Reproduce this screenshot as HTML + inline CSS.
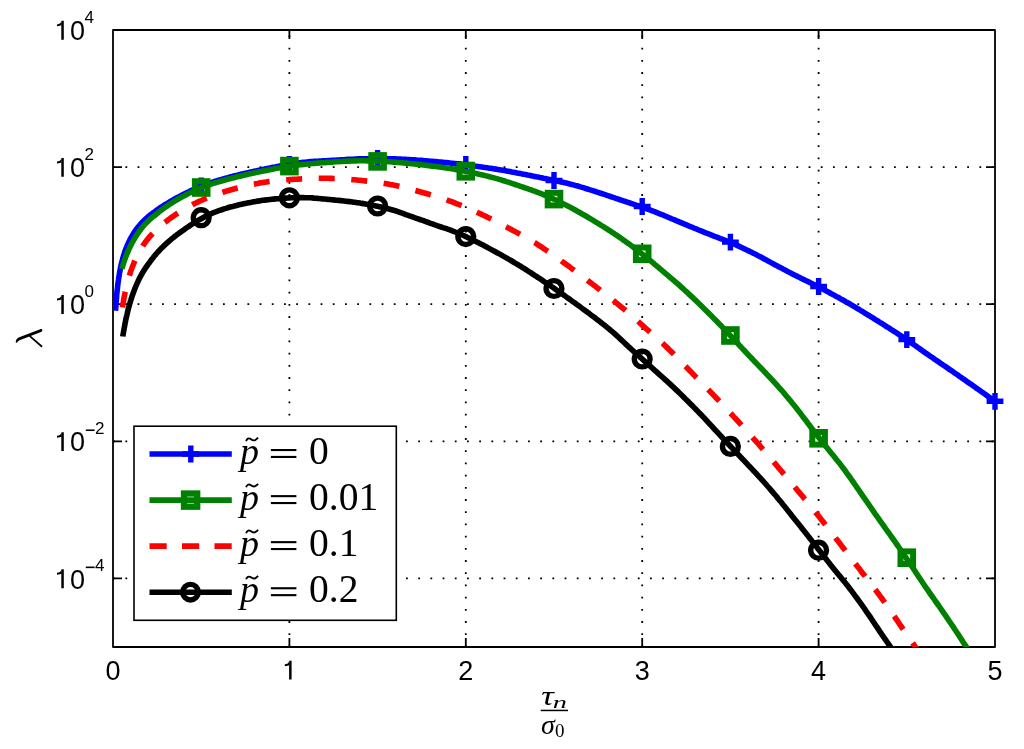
<!DOCTYPE html><html><head><meta charset="utf-8"><style>html,body{margin:0;padding:0;background:#fff;overflow:hidden}svg{display:block;will-change:transform}</style></head><body>
<svg width="1024" height="749" viewBox="0 0 1024 749">
<rect width="1024" height="749" fill="#fff"/>
<defs><clipPath id="ax"><rect x="113.0" y="30.0" width="882.0" height="617.0"/></clipPath></defs>
<g stroke="#000" stroke-width="1.8" stroke-dasharray="1.8 10.4" fill="none"><line x1="289.40" y1="647.30" x2="289.40" y2="30.00"/><line x1="465.80" y1="647.30" x2="465.80" y2="30.00"/><line x1="642.20" y1="647.30" x2="642.20" y2="30.00"/><line x1="818.60" y1="647.30" x2="818.60" y2="30.00"/><line x1="113.20" y1="167.11" x2="995.00" y2="167.11"/><line x1="113.20" y1="304.22" x2="995.00" y2="304.22"/><line x1="113.20" y1="441.33" x2="995.00" y2="441.33"/><line x1="113.20" y1="578.44" x2="995.00" y2="578.44"/></g>
<path d="M289.40,647.00v-9.00M289.40,30.00v9.00M465.80,647.00v-9.00M465.80,30.00v9.00M642.20,647.00v-9.00M642.20,30.00v9.00M818.60,647.00v-9.00M818.60,30.00v9.00M113.00,167.11h9.00M995.00,167.11h-9.00M113.00,304.22h9.00M995.00,304.22h-9.00M113.00,441.33h9.00M995.00,441.33h-9.00M113.00,578.44h9.00M995.00,578.44h-9.00" stroke="#000" stroke-width="1.8" fill="none"/>
<rect x="113.00" y="30.00" width="882.00" height="617.00" fill="none" stroke="#000" stroke-width="1.8" stroke-linejoin="round"/>
<g clip-path="url(#ax)" fill="none" stroke-width="5.60" stroke-linejoin="round"><path d="M115.5,310.7 L115.6,309.7 L115.7,308.6 L115.8,307.5 L115.8,306.5 L115.9,305.4 L116.0,304.3 L116.0,303.3 L116.1,302.2 L116.2,301.2 L116.3,300.1 L116.4,299.1 L116.5,298.0 L116.6,297.0 L116.6,296.0 L116.7,294.9 L116.8,293.9 L116.9,292.9 L117.0,291.9 L117.1,290.8 L117.2,289.8 L117.4,288.8 L117.5,287.8 L117.6,286.8 L117.7,285.8 L117.8,284.8 L117.9,283.8 L118.1,282.8 L118.2,281.8 L118.3,280.8 L118.5,279.9 L118.6,278.9 L118.8,277.9 L118.9,276.9 L119.1,276.0 L119.2,275.0 L119.4,274.0 L119.5,273.1 L119.7,272.1 L119.9,271.2 L120.1,270.2 L120.2,269.3 L120.4,268.3 L120.6,267.4 L120.8,266.5 L121.0,265.5 L121.2,264.6 L121.4,263.7 L121.7,262.8 L121.9,261.9 L122.1,261.0 L122.4,260.0 L122.6,259.1 L122.8,258.2 L123.1,257.3 L123.4,256.4 L123.6,255.5 L123.9,254.7 L124.2,253.8 L124.5,252.9 L124.8,252.0 L125.1,251.1 L125.4,250.3 L125.7,249.4 L126.0,248.5 L126.4,247.7 L126.7,246.8 L127.1,245.9 L127.4,245.1 L127.8,244.2 L128.2,243.4 L128.6,242.5 L129.0,241.7 L129.4,240.9 L129.8,240.0 L130.2,239.2 L130.7,238.3 L131.1,237.5 L131.6,236.7 L132.1,235.9 L132.6,235.0 L133.1,234.2 L133.6,233.4 L134.1,232.6 L134.7,231.8 L135.2,231.0 L135.8,230.1 L136.4,229.3 L137.0,228.5 L137.6,227.7 L138.3,226.9 L138.9,226.1 L139.6,225.3 L140.3,224.5 L141.0,223.7 L141.7,222.9 L142.4,222.1 L143.2,221.4 L144.0,220.6 L144.8,219.8 L145.6,219.0 L146.5,218.2 L147.3,217.5 L148.2,216.7 L149.1,215.9 L150.0,215.2 L151.0,214.4 L152.0,213.7 L153.0,212.9 L154.0,212.2 L155.1,211.4 L156.2,210.6 L157.3,209.8 L158.4,209.0 L159.6,208.2 L160.8,207.4 L162.0,206.6 L163.3,205.8 L164.6,204.9 L165.9,204.1 L167.7,203.1 L169.4,202.0 L171.2,201.0 L173.0,200.0 L174.7,199.0 L176.5,198.0 L178.3,197.1 L180.0,196.2 L181.8,195.2 L183.6,194.3 L185.3,193.4 L187.1,192.5 L188.9,191.7 L190.6,190.8 L192.4,190.0 L194.1,189.2 L195.9,188.4 L197.7,187.6 L199.4,186.9 L201.2,186.2 L203.0,185.5 L204.7,184.8 L206.5,184.2 L208.3,183.6 L210.0,182.9 L211.8,182.4 L213.5,181.8 L215.3,181.2 L217.1,180.7 L218.8,180.1 L220.6,179.6 L222.4,179.1 L224.1,178.6 L225.9,178.1 L227.7,177.7 L229.4,177.2 L231.2,176.7 L233.0,176.3 L234.7,175.8 L236.5,175.4 L238.2,175.0 L240.0,174.5 L241.8,174.1 L243.5,173.7 L245.3,173.3 L247.1,172.9 L248.8,172.5 L250.6,172.1 L252.4,171.7 L254.1,171.3 L255.9,170.9 L257.6,170.6 L259.4,170.2 L261.2,169.8 L262.9,169.4 L264.7,169.1 L266.5,168.7 L268.2,168.3 L270.0,168.0 L271.8,167.6 L273.5,167.2 L275.3,166.9 L277.1,166.5 L278.8,166.2 L280.6,165.8 L282.3,165.5 L284.1,165.2 L285.9,164.9 L287.6,164.6 L289.4,164.3 L291.2,164.0 L292.9,163.8 L294.7,163.5 L296.5,163.3 L298.2,163.0 L300.0,162.8 L301.7,162.6 L303.5,162.4 L305.3,162.2 L307.0,162.0 L308.8,161.8 L310.6,161.6 L312.3,161.5 L314.1,161.4 L315.9,161.3 L317.6,161.2 L319.4,161.1 L321.2,161.0 L322.9,160.9 L324.7,160.8 L326.4,160.7 L328.2,160.6 L330.0,160.5 L331.7,160.4 L333.5,160.3 L335.3,160.2 L337.0,160.1 L338.8,160.0 L340.6,159.9 L342.3,159.8 L344.1,159.7 L345.8,159.5 L347.6,159.4 L349.4,159.3 L351.1,159.2 L352.9,159.2 L354.7,159.1 L356.4,159.0 L358.2,158.9 L360.0,158.9 L361.7,158.8 L363.5,158.7 L365.3,158.7 L367.0,158.7 L368.8,158.6 L370.5,158.6 L372.3,158.6 L374.1,158.6 L375.8,158.5 L377.6,158.5 L379.4,158.5 L381.1,158.6 L382.9,158.6 L384.7,158.6 L386.4,158.6 L388.2,158.7 L389.9,158.7 L391.7,158.8 L393.5,158.8 L395.2,158.9 L397.0,159.0 L398.8,159.0 L400.5,159.1 L402.3,159.2 L404.1,159.3 L405.8,159.4 L407.6,159.5 L409.4,159.6 L411.1,159.7 L412.9,159.8 L414.6,159.9 L416.4,160.1 L418.2,160.2 L419.9,160.3 L421.7,160.4 L423.5,160.6 L425.2,160.7 L427.0,160.9 L428.8,161.0 L430.5,161.2 L432.3,161.3 L434.0,161.5 L435.8,161.6 L437.6,161.8 L439.3,162.0 L441.1,162.1 L442.9,162.3 L444.6,162.5 L446.4,162.6 L448.2,162.8 L449.9,163.0 L451.7,163.2 L453.5,163.4 L455.2,163.5 L457.0,163.7 L458.7,163.9 L460.5,164.1 L462.3,164.4 L464.0,164.6 L465.8,164.8 L467.6,165.0 L469.3,165.3 L471.1,165.5 L472.9,165.7 L474.6,166.0 L476.4,166.2 L478.1,166.5 L479.9,166.7 L481.7,167.0 L483.4,167.3 L485.2,167.5 L487.0,167.8 L488.7,168.1 L490.5,168.3 L492.3,168.6 L494.0,168.9 L495.8,169.1 L497.6,169.4 L499.3,169.7 L501.1,170.0 L502.8,170.3 L504.6,170.6 L506.4,170.9 L508.1,171.2 L509.9,171.5 L511.7,171.9 L513.4,172.2 L515.2,172.5 L517.0,172.9 L518.7,173.2 L520.5,173.6 L522.2,173.9 L524.0,174.3 L525.8,174.6 L527.5,175.0 L529.3,175.3 L531.1,175.7 L532.8,176.1 L534.6,176.4 L536.4,176.8 L538.1,177.1 L539.9,177.5 L541.7,177.8 L543.4,178.2 L545.2,178.5 L546.9,178.9 L548.7,179.3 L550.5,179.6 L552.2,180.0 L554.0,180.4 L555.8,180.7 L557.5,181.1 L559.3,181.5 L561.1,181.9 L562.8,182.3 L564.6,182.7 L566.3,183.1 L568.1,183.5 L569.9,184.0 L571.6,184.4 L573.4,184.9 L575.2,185.4 L576.9,185.8 L578.7,186.3 L580.5,186.9 L582.2,187.4 L584.0,187.9 L585.8,188.5 L587.5,189.0 L589.3,189.6 L591.0,190.1 L592.8,190.7 L594.6,191.3 L596.3,191.8 L598.1,192.4 L599.9,193.0 L601.6,193.5 L603.4,194.1 L605.2,194.7 L606.9,195.3 L608.7,195.9 L610.4,196.5 L612.2,197.1 L614.0,197.7 L615.7,198.3 L617.5,198.9 L619.3,199.5 L621.0,200.1 L622.8,200.7 L624.6,201.3 L626.3,201.8 L628.1,202.4 L629.9,203.0 L631.6,203.6 L633.4,204.2 L635.1,204.8 L636.9,205.4 L638.7,206.0 L640.4,206.6 L642.2,207.2 L644.0,207.8 L645.7,208.4 L647.5,209.1 L649.3,209.7 L651.0,210.4 L652.8,211.0 L654.5,211.7 L656.3,212.4 L658.1,213.1 L659.8,213.8 L661.6,214.5 L663.4,215.2 L665.1,216.0 L666.9,216.7 L668.7,217.5 L670.4,218.2 L672.2,219.0 L674.0,219.7 L675.7,220.4 L677.5,221.2 L679.2,221.9 L681.0,222.6 L682.8,223.4 L684.5,224.1 L686.3,224.8 L688.1,225.6 L689.8,226.3 L691.6,227.0 L693.4,227.8 L695.1,228.5 L696.9,229.2 L698.6,230.0 L700.4,230.7 L702.2,231.4 L703.9,232.1 L705.7,232.8 L707.5,233.5 L709.2,234.2 L711.0,234.9 L712.8,235.6 L714.5,236.3 L716.3,236.9 L718.1,237.6 L719.8,238.3 L721.6,239.0 L723.3,239.6 L725.1,240.3 L726.9,241.1 L728.6,241.8 L730.4,242.5 L732.2,243.3 L733.9,244.0 L735.7,244.8 L737.5,245.6 L739.2,246.4 L741.0,247.2 L742.7,248.0 L744.5,248.9 L746.3,249.7 L748.0,250.6 L749.8,251.4 L751.6,252.3 L753.3,253.2 L755.1,254.1 L756.9,255.0 L758.6,255.9 L760.4,256.8 L762.2,257.8 L763.9,258.7 L765.7,259.7 L767.4,260.7 L769.2,261.6 L771.0,262.6 L772.7,263.5 L774.5,264.5 L776.3,265.4 L778.0,266.4 L779.8,267.3 L781.6,268.2 L783.3,269.2 L785.1,270.1 L786.8,271.0 L788.6,271.9 L790.4,272.9 L792.1,273.8 L793.9,274.7 L795.7,275.6 L797.4,276.4 L799.2,277.3 L801.0,278.2 L802.7,279.1 L804.5,279.9 L806.3,280.8 L808.0,281.6 L809.8,282.5 L811.5,283.4 L813.3,284.2 L815.1,285.1 L816.8,286.0 L818.6,286.9 L820.4,287.8 L822.1,288.8 L823.9,289.7 L825.7,290.6 L827.4,291.6 L829.2,292.5 L830.9,293.5 L832.7,294.4 L834.5,295.4 L836.2,296.4 L838.0,297.3 L839.8,298.3 L841.5,299.3 L843.3,300.3 L845.1,301.3 L846.8,302.3 L848.6,303.3 L850.4,304.3 L852.1,305.3 L853.9,306.4 L855.6,307.4 L857.4,308.5 L859.2,309.5 L860.9,310.6 L862.7,311.7 L864.5,312.8 L866.2,313.9 L868.0,315.0 L869.8,316.0 L871.5,317.1 L873.3,318.2 L875.0,319.3 L876.8,320.4 L878.6,321.5 L880.3,322.6 L882.1,323.7 L883.9,324.8 L885.6,326.0 L887.4,327.1 L889.2,328.2 L890.9,329.3 L892.7,330.5 L894.5,331.6 L896.2,332.7 L898.0,333.9 L899.7,335.0 L901.5,336.2 L903.3,337.4 L905.0,338.6 L906.8,339.8 L908.6,341.0 L910.3,342.2 L912.1,343.4 L913.9,344.6 L915.6,345.9 L917.4,347.1 L919.1,348.4 L920.9,349.6 L922.7,350.9 L924.4,352.1 L926.2,353.4 L928.0,354.6 L929.7,355.8 L931.5,357.0 L933.3,358.2 L935.0,359.5 L936.8,360.7 L938.6,361.9 L940.3,363.1 L942.1,364.3 L943.8,365.5 L945.6,366.7 L947.4,367.9 L949.1,369.1 L950.9,370.3 L952.7,371.6 L954.4,372.8 L956.2,374.0 L958.0,375.2 L959.7,376.5 L961.5,377.7 L963.2,378.9 L965.0,380.1 L966.8,381.4 L968.5,382.6 L970.3,383.8 L972.1,385.1 L973.8,386.3 L975.6,387.6 L977.4,388.8 L979.1,390.0 L980.9,391.3 L982.7,392.5 L984.4,393.7 L986.2,395.0 L987.9,396.3 L989.7,397.5 L991.5,398.8 L993.2,400.1 L995.0,401.4" stroke="#0000ff"/></g>
<path d="M192.80,185.80h16.80M201.20,177.40v16.80" stroke="#0000ff" stroke-width="5.40" fill="none"/><path d="M281.00,164.30h16.80M289.40,155.90v16.80" stroke="#0000ff" stroke-width="5.40" fill="none"/><path d="M369.20,158.40h16.80M377.60,150.00v16.80" stroke="#0000ff" stroke-width="5.40" fill="none"/><path d="M457.40,164.50h16.80M465.80,156.10v16.80" stroke="#0000ff" stroke-width="5.40" fill="none"/><path d="M545.60,180.50h16.80M554.00,172.10v16.80" stroke="#0000ff" stroke-width="5.40" fill="none"/><path d="M633.80,206.50h16.80M642.20,198.10v16.80" stroke="#0000ff" stroke-width="5.40" fill="none"/><path d="M722.00,242.10h16.80M730.40,233.70v16.80" stroke="#0000ff" stroke-width="5.40" fill="none"/><path d="M810.20,286.50h16.80M818.60,278.10v16.80" stroke="#0000ff" stroke-width="5.40" fill="none"/><path d="M898.40,339.60h16.80M906.80,331.20v16.80" stroke="#0000ff" stroke-width="5.40" fill="none"/><path d="M986.60,401.30h16.80M995.00,392.90v16.80" stroke="#0000ff" stroke-width="5.40" fill="none"/>
<g clip-path="url(#ax)" fill="none" stroke-width="5.60" stroke-linejoin="round"><path d="M121.8,268.9 L121.9,268.5 L122.1,268.0 L122.2,267.5 L122.3,267.1 L122.5,266.6 L122.6,266.1 L122.8,265.6 L122.9,265.2 L123.1,264.7 L123.2,264.2 L123.4,263.7 L123.5,263.2 L123.7,262.7 L123.9,262.3 L124.0,261.8 L124.2,261.3 L124.4,260.8 L124.5,260.3 L124.7,259.8 L124.9,259.3 L125.1,258.8 L125.3,258.3 L125.4,257.8 L125.6,257.3 L125.8,256.8 L126.0,256.3 L126.2,255.7 L126.4,255.2 L126.6,254.7 L126.8,254.2 L127.0,253.7 L127.3,253.2 L127.5,252.7 L127.7,252.1 L127.9,251.6 L128.1,251.1 L128.4,250.6 L128.6,250.0 L128.8,249.5 L129.1,249.0 L129.3,248.5 L129.6,247.9 L129.8,247.4 L130.1,246.9 L130.3,246.3 L130.6,245.8 L130.9,245.3 L131.1,244.7 L131.4,244.2 L131.7,243.6 L132.0,243.1 L132.3,242.6 L132.6,242.0 L132.9,241.5 L133.2,240.9 L133.5,240.4 L133.8,239.8 L134.1,239.3 L134.4,238.7 L134.7,238.2 L135.1,237.7 L135.4,237.1 L135.7,236.6 L136.1,236.0 L136.4,235.5 L136.8,234.9 L137.2,234.4 L137.5,233.8 L137.9,233.3 L138.3,232.7 L138.7,232.2 L139.1,231.6 L139.5,231.1 L139.9,230.5 L140.3,230.0 L140.7,229.4 L141.1,228.9 L141.5,228.3 L142.0,227.8 L142.4,227.2 L142.8,226.7 L143.3,226.1 L143.8,225.6 L144.2,225.1 L144.7,224.5 L145.2,224.0 L145.7,223.5 L146.2,222.9 L146.7,222.4 L147.2,221.9 L147.7,221.4 L148.2,220.9 L148.8,220.4 L149.3,219.8 L149.9,219.3 L150.4,218.8 L151.0,218.4 L151.6,217.9 L152.1,217.4 L152.7,216.9 L153.3,216.4 L154.0,216.0 L154.6,215.5 L155.2,215.1 L155.9,214.6 L156.5,214.0 L157.2,213.5 L157.8,212.9 L158.5,212.3 L159.2,211.8 L159.9,211.2 L160.6,210.7 L161.3,210.1 L162.1,209.6 L162.8,209.0 L163.6,208.5 L164.3,207.9 L165.1,207.3 L165.9,206.8 L167.7,205.6 L169.4,204.4 L171.2,203.3 L173.0,202.2 L174.7,201.1 L176.5,200.1 L178.3,199.0 L180.0,198.0 L181.8,197.1 L183.6,196.1 L185.3,195.2 L187.1,194.2 L188.9,193.3 L190.6,192.5 L192.4,191.6 L194.1,190.8 L195.9,190.0 L197.7,189.2 L199.4,188.4 L201.2,187.7 L203.0,187.0 L204.7,186.4 L206.5,185.7 L208.3,185.1 L210.0,184.5 L211.8,183.9 L213.5,183.3 L215.3,182.8 L217.1,182.3 L218.8,181.7 L220.6,181.2 L222.4,180.7 L224.1,180.2 L225.9,179.8 L227.7,179.3 L229.4,178.8 L231.2,178.4 L233.0,177.9 L234.7,177.5 L236.5,177.0 L238.2,176.6 L240.0,176.2 L241.8,175.8 L243.5,175.3 L245.3,174.9 L247.1,174.5 L248.8,174.1 L250.6,173.7 L252.4,173.3 L254.1,173.0 L255.9,172.6 L257.6,172.2 L259.4,171.8 L261.2,171.5 L262.9,171.1 L264.7,170.7 L266.5,170.4 L268.2,170.0 L270.0,169.7 L271.8,169.3 L273.5,169.0 L275.3,168.6 L277.1,168.3 L278.8,168.0 L280.6,167.7 L282.3,167.3 L284.1,167.1 L285.9,166.8 L287.6,166.5 L289.4,166.2 L291.2,166.0 L292.9,165.7 L294.7,165.5 L296.5,165.3 L298.2,165.1 L300.0,164.8 L301.7,164.6 L303.5,164.4 L305.3,164.2 L307.0,164.0 L308.8,163.9 L310.6,163.7 L312.3,163.5 L314.1,163.4 L315.9,163.2 L317.6,163.1 L319.4,163.0 L321.2,162.8 L322.9,162.7 L324.7,162.6 L326.4,162.4 L328.2,162.3 L330.0,162.2 L331.7,162.1 L333.5,162.0 L335.3,161.8 L337.0,161.7 L338.8,161.6 L340.6,161.5 L342.3,161.4 L344.1,161.3 L345.8,161.2 L347.6,161.1 L349.4,161.1 L351.1,161.0 L352.9,161.0 L354.7,160.9 L356.4,160.9 L358.2,160.8 L360.0,160.8 L361.7,160.8 L363.5,160.8 L365.3,160.8 L367.0,160.9 L368.8,160.9 L370.5,160.9 L372.3,161.0 L374.1,161.0 L375.8,161.1 L377.6,161.1 L379.4,161.2 L381.1,161.3 L382.9,161.4 L384.7,161.5 L386.4,161.6 L388.2,161.7 L389.9,161.8 L391.7,162.0 L393.5,162.1 L395.2,162.2 L397.0,162.4 L398.8,162.5 L400.5,162.7 L402.3,162.8 L404.1,163.0 L405.8,163.1 L407.6,163.3 L409.4,163.5 L411.1,163.7 L412.9,163.8 L414.6,164.0 L416.4,164.2 L418.2,164.4 L419.9,164.6 L421.7,164.8 L423.5,165.0 L425.2,165.2 L427.0,165.4 L428.8,165.6 L430.5,165.9 L432.3,166.1 L434.0,166.3 L435.8,166.5 L437.6,166.8 L439.3,167.0 L441.1,167.2 L442.9,167.5 L444.6,167.7 L446.4,168.0 L448.2,168.3 L449.9,168.5 L451.7,168.8 L453.5,169.1 L455.2,169.4 L457.0,169.7 L458.7,170.0 L460.5,170.4 L462.3,170.7 L464.0,171.0 L465.8,171.4 L467.6,171.7 L469.3,172.1 L471.1,172.4 L472.9,172.8 L474.6,173.2 L476.4,173.6 L478.1,174.0 L479.9,174.4 L481.7,174.8 L483.4,175.2 L485.2,175.6 L487.0,176.1 L488.7,176.5 L490.5,177.0 L492.3,177.4 L494.0,177.9 L495.8,178.4 L497.6,178.9 L499.3,179.4 L501.1,179.9 L502.8,180.5 L504.6,181.0 L506.4,181.6 L508.1,182.1 L509.9,182.7 L511.7,183.3 L513.4,183.9 L515.2,184.5 L517.0,185.1 L518.7,185.7 L520.5,186.3 L522.2,186.9 L524.0,187.5 L525.8,188.1 L527.5,188.7 L529.3,189.3 L531.1,189.9 L532.8,190.6 L534.6,191.2 L536.4,191.9 L538.1,192.5 L539.9,193.2 L541.7,193.9 L543.4,194.6 L545.2,195.4 L546.9,196.1 L548.7,196.9 L550.5,197.6 L552.2,198.4 L554.0,199.2 L555.8,200.0 L557.5,200.9 L559.3,201.7 L561.1,202.6 L562.8,203.5 L564.6,204.4 L566.3,205.3 L568.1,206.2 L569.9,207.1 L571.6,208.1 L573.4,209.0 L575.2,210.0 L576.9,211.0 L578.7,212.0 L580.5,213.0 L582.2,214.0 L584.0,215.0 L585.8,216.0 L587.5,217.0 L589.3,218.1 L591.0,219.1 L592.8,220.2 L594.6,221.3 L596.3,222.3 L598.1,223.4 L599.9,224.5 L601.6,225.6 L603.4,226.7 L605.2,227.8 L606.9,228.9 L608.7,230.1 L610.4,231.2 L612.2,232.4 L614.0,233.5 L615.7,234.7 L617.5,235.9 L619.3,237.1 L621.0,238.3 L622.8,239.6 L624.6,240.8 L626.3,242.1 L628.1,243.3 L629.9,244.6 L631.6,245.9 L633.4,247.3 L635.1,248.6 L636.9,249.9 L638.7,251.3 L640.4,252.7 L642.2,254.1 L644.0,255.5 L645.7,256.9 L647.5,258.3 L649.3,259.8 L651.0,261.2 L652.8,262.7 L654.5,264.2 L656.3,265.6 L658.1,267.1 L659.8,268.6 L661.6,270.1 L663.4,271.6 L665.1,273.1 L666.9,274.6 L668.7,276.1 L670.4,277.6 L672.2,279.1 L674.0,280.6 L675.7,282.1 L677.5,283.7 L679.2,285.2 L681.0,286.8 L682.8,288.4 L684.5,290.0 L686.3,291.6 L688.1,293.2 L689.8,294.9 L691.6,296.6 L693.4,298.2 L695.1,299.9 L696.9,301.6 L698.6,303.3 L700.4,305.0 L702.2,306.8 L703.9,308.5 L705.7,310.2 L707.5,312.0 L709.2,313.7 L711.0,315.5 L712.8,317.3 L714.5,319.1 L716.3,320.8 L718.1,322.7 L719.8,324.5 L721.6,326.3 L723.3,328.1 L725.1,330.0 L726.9,331.8 L728.6,333.7 L730.4,335.6 L732.2,337.5 L733.9,339.4 L735.7,341.3 L737.5,343.2 L739.2,345.1 L741.0,347.0 L742.7,348.9 L744.5,350.8 L746.3,352.7 L748.0,354.6 L749.8,356.4 L751.6,358.3 L753.3,360.1 L755.1,362.0 L756.9,363.8 L758.6,365.6 L760.4,367.5 L762.2,369.3 L763.9,371.1 L765.7,373.0 L767.4,374.8 L769.2,376.7 L771.0,378.6 L772.7,380.5 L774.5,382.4 L776.3,384.4 L778.0,386.3 L779.8,388.3 L781.6,390.3 L783.3,392.3 L785.1,394.4 L786.8,396.5 L788.6,398.6 L790.4,400.7 L792.1,402.9 L793.9,405.1 L795.7,407.3 L797.4,409.5 L799.2,411.8 L801.0,414.1 L802.7,416.4 L804.5,418.7 L806.3,421.0 L808.0,423.3 L809.8,425.7 L811.5,428.0 L813.3,430.3 L815.1,432.6 L816.8,434.9 L818.6,437.2 L820.4,439.5 L822.1,441.7 L823.9,444.0 L825.7,446.2 L827.4,448.3 L829.2,450.5 L830.9,452.7 L832.7,454.8 L834.5,457.0 L836.2,459.2 L838.0,461.4 L839.8,463.6 L841.5,465.9 L843.3,468.3 L845.1,470.6 L846.8,473.1 L848.6,475.5 L850.4,478.0 L852.1,480.5 L853.9,483.0 L855.6,485.5 L857.4,488.1 L859.2,490.6 L860.9,493.2 L862.7,495.8 L864.5,498.3 L866.2,500.9 L868.0,503.4 L869.8,506.0 L871.5,508.5 L873.3,511.1 L875.0,513.6 L876.8,516.1 L878.6,518.6 L880.3,521.1 L882.1,523.6 L883.9,526.1 L885.6,528.6 L887.4,531.1 L889.2,533.5 L890.9,536.0 L892.7,538.5 L894.5,541.0 L896.2,543.5 L898.0,546.0 L899.7,548.5 L901.5,551.1 L903.3,553.7 L905.0,556.3 L906.8,558.9 L908.6,561.5 L910.3,564.1 L912.1,566.8 L913.9,569.4 L915.6,572.1 L917.4,574.8 L919.1,577.4 L920.9,580.0 L922.7,582.7 L924.4,585.3 L926.2,587.9 L928.0,590.4 L929.7,593.0 L931.5,595.5 L933.3,598.0 L935.0,600.5 L936.8,603.0 L938.6,605.5 L940.3,608.0 L942.1,610.6 L943.8,613.1 L945.6,615.7 L947.4,618.3 L949.1,620.9 L950.9,623.5 L952.7,626.1 L954.4,628.8 L956.2,631.5 L958.0,634.1 L959.7,636.8 L961.5,639.5 L963.2,642.2 L965.0,644.9 L966.8,647.5 L968.5,650.2 L970.3,652.9 L972.1,655.6 L973.8,658.2 L975.6,660.9" stroke="#008000"/></g>
<rect x="194.90" y="181.20" width="12.60" height="12.60" stroke="#008000" stroke-width="6.00" fill="none" stroke-linejoin="miter"/><rect x="283.10" y="159.80" width="12.60" height="12.60" stroke="#008000" stroke-width="6.00" fill="none" stroke-linejoin="miter"/><rect x="371.30" y="155.10" width="12.60" height="12.60" stroke="#008000" stroke-width="6.00" fill="none" stroke-linejoin="miter"/><rect x="459.50" y="165.00" width="12.60" height="12.60" stroke="#008000" stroke-width="6.00" fill="none" stroke-linejoin="miter"/><rect x="547.70" y="192.80" width="12.60" height="12.60" stroke="#008000" stroke-width="6.00" fill="none" stroke-linejoin="miter"/><rect x="635.90" y="247.50" width="12.60" height="12.60" stroke="#008000" stroke-width="6.00" fill="none" stroke-linejoin="miter"/><rect x="724.10" y="329.20" width="12.60" height="12.60" stroke="#008000" stroke-width="6.00" fill="none" stroke-linejoin="miter"/><rect x="812.30" y="432.00" width="12.60" height="12.60" stroke="#008000" stroke-width="6.00" fill="none" stroke-linejoin="miter"/><rect x="900.50" y="551.40" width="12.60" height="12.60" stroke="#008000" stroke-width="6.00" fill="none" stroke-linejoin="miter"/>
<g clip-path="url(#ax)" fill="none" stroke-width="5.60" stroke-linejoin="round"><path d="M122.3,308.2 L122.4,307.3 L122.6,306.4 L122.7,305.5 L122.9,304.7 L123.0,303.8 L123.2,302.9 L123.3,302.0 L123.5,301.1 L123.6,300.3 L123.8,299.4 L123.9,298.5 L124.1,297.7 L124.2,296.8 L124.4,295.9 L124.6,295.1 L124.7,294.2 L124.9,293.4 L125.1,292.5 L125.3,291.7 L125.5,290.9 L125.6,290.0 L125.8,289.2 L126.0,288.4 L126.2,287.5 L126.4,286.7 L126.6,285.9 L126.8,285.1 L127.0,284.2 L127.2,283.4 L127.4,282.6 L127.6,281.8 L127.8,281.0 L128.1,280.2 L128.3,279.4 L128.5,278.6 L128.7,277.8 L129.0,277.0 L129.2,276.2 L129.4,275.5 L129.7,274.7 L129.9,273.9 L130.2,273.1 L130.4,272.3 L130.7,271.6 L130.9,270.8 L131.2,270.0 L131.5,269.3 L131.8,268.5 L132.0,267.8 L132.3,267.0 L132.6,266.3 L132.9,265.5 L133.2,264.8 L133.5,264.0 L133.8,263.3 L134.1,262.5 L134.4,261.8 L134.7,261.1 L135.0,260.4 L135.3,259.6 L135.7,258.9 L136.0,258.2 L136.3,257.5 L136.7,256.8 L137.0,256.0 L137.4,255.3 L137.8,254.6 L138.1,253.9 L138.5,253.2 L138.9,252.5 L139.2,251.8 L139.6,251.1 L140.0,250.5 L140.4,249.8 L140.8,249.1 L141.2,248.4 L141.6,247.7 L142.1,247.1 L142.5,246.4 L142.9,245.7 L143.4,245.1 L143.8,244.4 L144.3,243.7 L144.7,243.1 L145.2,242.4 L145.7,241.8 L146.2,241.1 L146.6,240.5 L147.1,239.9 L147.6,239.2 L148.2,238.6 L148.7,238.0 L149.2,237.3 L149.7,236.7 L150.3,236.1 L150.8,235.5 L151.4,234.9 L151.9,234.3 L152.5,233.7 L153.1,233.1 L153.7,232.5 L154.3,231.9 L154.9,231.3 L155.5,230.8 L156.1,230.2 L156.8,229.6 L157.4,229.0 L158.1,228.3 L158.7,227.7 L159.4,227.1 L160.1,226.5 L160.8,225.9 L161.5,225.2 L162.2,224.6 L162.9,224.0 L163.7,223.4 L164.4,222.8 L165.2,222.2 L165.9,221.6 L167.7,220.2 L169.4,218.9 L171.2,217.6 L173.0,216.4 L174.7,215.2 L176.5,214.0 L178.3,212.9 L180.0,211.8 L181.8,210.7 L183.6,209.6 L185.3,208.6 L187.1,207.6 L188.9,206.6 L190.6,205.7 L192.4,204.7 L194.1,203.8 L195.9,203.0 L197.7,202.1 L199.4,201.3 L201.2,200.5 L203.0,199.7 L204.7,199.0 L206.5,198.2 L208.3,197.5 L210.0,196.8 L211.8,196.1 L213.5,195.5 L215.3,194.8 L217.1,194.2 L218.8,193.6 L220.6,193.0 L222.4,192.4 L224.1,191.8 L225.9,191.3 L227.7,190.7 L229.4,190.2 L231.2,189.7 L233.0,189.2 L234.7,188.7 L236.5,188.2 L238.2,187.8 L240.0,187.3 L241.8,186.9 L243.5,186.5 L245.3,186.1 L247.1,185.7 L248.8,185.3 L250.6,184.9 L252.4,184.5 L254.1,184.2 L255.9,183.8 L257.6,183.5 L259.4,183.1 L261.2,182.8 L262.9,182.5 L264.7,182.2 L266.5,181.9 L268.2,181.6 L270.0,181.4 L271.8,181.1 L273.5,180.9 L275.3,180.7 L277.1,180.5 L278.8,180.4 L280.6,180.2 L282.3,180.1 L284.1,180.0 L285.9,179.8 L287.6,179.7 L289.4,179.6 L291.2,179.5 L292.9,179.4 L294.7,179.3 L296.5,179.2 L298.2,179.1 L300.0,179.0 L301.7,178.9 L303.5,178.8 L305.3,178.7 L307.0,178.6 L308.8,178.6 L310.6,178.5 L312.3,178.4 L314.1,178.4 L315.9,178.3 L317.6,178.3 L319.4,178.3 L321.2,178.3 L322.9,178.3 L324.7,178.3 L326.4,178.3 L328.2,178.3 L330.0,178.4 L331.7,178.4 L333.5,178.5 L335.3,178.5 L337.0,178.6 L338.8,178.7 L340.6,178.8 L342.3,178.9 L344.1,179.0 L345.8,179.1 L347.6,179.2 L349.4,179.4 L351.1,179.5 L352.9,179.7 L354.7,179.8 L356.4,180.0 L358.2,180.2 L360.0,180.3 L361.7,180.5 L363.5,180.7 L365.3,180.9 L367.0,181.1 L368.8,181.3 L370.5,181.5 L372.3,181.8 L374.1,182.0 L375.8,182.2 L377.6,182.5 L379.4,182.7 L381.1,183.0 L382.9,183.2 L384.7,183.5 L386.4,183.8 L388.2,184.1 L389.9,184.4 L391.7,184.7 L393.5,185.1 L395.2,185.4 L397.0,185.8 L398.8,186.2 L400.5,186.6 L402.3,187.0 L404.1,187.4 L405.8,187.9 L407.6,188.3 L409.4,188.8 L411.1,189.3 L412.9,189.7 L414.6,190.2 L416.4,190.7 L418.2,191.2 L419.9,191.7 L421.7,192.2 L423.5,192.7 L425.2,193.2 L427.0,193.7 L428.8,194.2 L430.5,194.8 L432.3,195.3 L434.0,195.8 L435.8,196.4 L437.6,196.9 L439.3,197.5 L441.1,198.1 L442.9,198.6 L444.6,199.2 L446.4,199.8 L448.2,200.5 L449.9,201.1 L451.7,201.7 L453.5,202.4 L455.2,203.1 L457.0,203.8 L458.7,204.5 L460.5,205.2 L462.3,205.9 L464.0,206.6 L465.8,207.4 L467.6,208.1 L469.3,208.9 L471.1,209.6 L472.9,210.4 L474.6,211.2 L476.4,212.0 L478.1,212.8 L479.9,213.6 L481.7,214.4 L483.4,215.3 L485.2,216.1 L487.0,217.0 L488.7,217.8 L490.5,218.7 L492.3,219.6 L494.0,220.5 L495.8,221.4 L497.6,222.3 L499.3,223.2 L501.1,224.1 L502.8,225.1 L504.6,226.0 L506.4,226.9 L508.1,227.9 L509.9,228.8 L511.7,229.8 L513.4,230.7 L515.2,231.6 L517.0,232.6 L518.7,233.5 L520.5,234.5 L522.2,235.5 L524.0,236.4 L525.8,237.4 L527.5,238.4 L529.3,239.5 L531.1,240.5 L532.8,241.6 L534.6,242.6 L536.4,243.7 L538.1,244.9 L539.9,246.0 L541.7,247.2 L543.4,248.3 L545.2,249.5 L546.9,250.7 L548.7,251.9 L550.5,253.2 L552.2,254.4 L554.0,255.6 L555.8,256.9 L557.5,258.2 L559.3,259.4 L561.1,260.7 L562.8,262.0 L564.6,263.3 L566.3,264.5 L568.1,265.8 L569.9,267.1 L571.6,268.4 L573.4,269.7 L575.2,271.0 L576.9,272.4 L578.7,273.7 L580.5,275.0 L582.2,276.3 L584.0,277.7 L585.8,279.0 L587.5,280.3 L589.3,281.7 L591.0,283.0 L592.8,284.4 L594.6,285.7 L596.3,287.1 L598.1,288.5 L599.9,289.8 L601.6,291.2 L603.4,292.6 L605.2,294.0 L606.9,295.3 L608.7,296.7 L610.4,298.1 L612.2,299.6 L614.0,301.0 L615.7,302.4 L617.5,303.8 L619.3,305.3 L621.0,306.8 L622.8,308.2 L624.6,309.7 L626.3,311.2 L628.1,312.7 L629.9,314.2 L631.6,315.8 L633.4,317.3 L635.1,318.9 L636.9,320.4 L638.7,322.0 L640.4,323.5 L642.2,325.1 L644.0,326.7 L645.7,328.3 L647.5,329.8 L649.3,331.4 L651.0,332.9 L652.8,334.5 L654.5,336.0 L656.3,337.6 L658.1,339.2 L659.8,340.8 L661.6,342.4 L663.4,344.0 L665.1,345.7 L666.9,347.4 L668.7,349.1 L670.4,350.9 L672.2,352.6 L674.0,354.4 L675.7,356.2 L677.5,358.0 L679.2,359.8 L681.0,361.6 L682.8,363.5 L684.5,365.3 L686.3,367.1 L688.1,368.9 L689.8,370.8 L691.6,372.6 L693.4,374.4 L695.1,376.2 L696.9,378.0 L698.6,379.8 L700.4,381.6 L702.2,383.4 L703.9,385.2 L705.7,387.0 L707.5,388.8 L709.2,390.6 L711.0,392.5 L712.8,394.3 L714.5,396.1 L716.3,398.0 L718.1,399.8 L719.8,401.7 L721.6,403.6 L723.3,405.5 L725.1,407.4 L726.9,409.3 L728.6,411.2 L730.4,413.1 L732.2,415.0 L733.9,416.9 L735.7,418.8 L737.5,420.7 L739.2,422.6 L741.0,424.6 L742.7,426.5 L744.5,428.5 L746.3,430.4 L748.0,432.4 L749.8,434.3 L751.6,436.3 L753.3,438.3 L755.1,440.3 L756.9,442.3 L758.6,444.3 L760.4,446.4 L762.2,448.4 L763.9,450.5 L765.7,452.5 L767.4,454.6 L769.2,456.6 L771.0,458.7 L772.7,460.8 L774.5,462.9 L776.3,465.0 L778.0,467.1 L779.8,469.2 L781.6,471.3 L783.3,473.4 L785.1,475.5 L786.8,477.6 L788.6,479.7 L790.4,481.8 L792.1,483.9 L793.9,486.0 L795.7,488.1 L797.4,490.3 L799.2,492.4 L801.0,494.5 L802.7,496.6 L804.5,498.8 L806.3,500.9 L808.0,503.1 L809.8,505.2 L811.5,507.4 L813.3,509.5 L815.1,511.7 L816.8,513.9 L818.6,516.1 L820.4,518.3 L822.1,520.6 L823.9,522.8 L825.7,525.1 L827.4,527.3 L829.2,529.6 L830.9,531.9 L832.7,534.2 L834.5,536.5 L836.2,538.8 L838.0,541.1 L839.8,543.4 L841.5,545.7 L843.3,548.0 L845.1,550.4 L846.8,552.7 L848.6,555.0 L850.4,557.3 L852.1,559.6 L853.9,561.8 L855.6,564.1 L857.4,566.4 L859.2,568.6 L860.9,570.9 L862.7,573.2 L864.5,575.4 L866.2,577.7 L868.0,580.0 L869.8,582.3 L871.5,584.6 L873.3,586.9 L875.0,589.2 L876.8,591.6 L878.6,594.0 L880.3,596.4 L882.1,598.8 L883.9,601.3 L885.6,603.8 L887.4,606.3 L889.2,608.8 L890.9,611.4 L892.7,613.9 L894.5,616.5 L896.2,619.1 L898.0,621.7 L899.7,624.3 L901.5,626.9 L903.3,629.5 L905.0,632.0 L906.8,634.6 L908.6,637.2 L910.3,639.7 L912.1,642.2 L913.9,644.8 L915.6,647.3 L917.4,649.8 L919.1,652.3 L920.9,654.8 L922.7,657.3 L924.4,659.7" stroke="#ff0000" stroke-dasharray="16 16.6" stroke-dashoffset="-0.8"/></g>
<g clip-path="url(#ax)" fill="none" stroke-width="5.60" stroke-linejoin="round"><path d="M122.8,336.5 L122.9,335.6 L123.1,334.7 L123.2,333.8 L123.4,332.9 L123.5,332.0 L123.7,331.1 L123.8,330.2 L124.0,329.4 L124.1,328.5 L124.3,327.6 L124.5,326.7 L124.6,325.8 L124.8,324.9 L125.0,324.1 L125.1,323.2 L125.3,322.3 L125.5,321.4 L125.6,320.6 L125.8,319.7 L126.0,318.8 L126.2,318.0 L126.4,317.1 L126.6,316.2 L126.8,315.4 L127.0,314.5 L127.2,313.7 L127.4,312.8 L127.6,312.0 L127.8,311.1 L128.0,310.3 L128.2,309.5 L128.4,308.6 L128.6,307.8 L128.9,306.9 L129.1,306.1 L129.3,305.3 L129.6,304.4 L129.8,303.6 L130.0,302.8 L130.3,302.0 L130.5,301.2 L130.8,300.3 L131.0,299.5 L131.3,298.7 L131.5,297.9 L131.8,297.1 L132.1,296.3 L132.3,295.5 L132.6,294.7 L132.9,293.9 L133.2,293.1 L133.5,292.3 L133.8,291.5 L134.1,290.7 L134.4,289.9 L134.7,289.1 L135.0,288.3 L135.3,287.6 L135.6,286.8 L135.9,286.0 L136.3,285.2 L136.6,284.5 L136.9,283.7 L137.3,282.9 L137.6,282.2 L138.0,281.4 L138.3,280.7 L138.7,279.9 L139.1,279.2 L139.4,278.4 L139.8,277.7 L140.2,276.9 L140.6,276.2 L141.0,275.5 L141.4,274.7 L141.8,274.0 L142.2,273.3 L142.6,272.6 L143.0,271.9 L143.5,271.2 L143.9,270.5 L144.3,269.8 L144.8,269.1 L145.2,268.4 L145.7,267.7 L146.2,267.1 L146.6,266.4 L147.1,265.7 L147.6,265.1 L148.1,264.4 L148.6,263.7 L149.1,263.0 L149.6,262.3 L150.1,261.6 L150.7,260.8 L151.2,260.1 L151.7,259.4 L152.3,258.7 L152.9,258.0 L153.4,257.2 L154.0,256.5 L154.6,255.8 L155.2,255.1 L155.8,254.4 L156.4,253.7 L157.0,253.0 L157.6,252.3 L158.3,251.6 L158.9,250.9 L159.6,250.2 L160.2,249.5 L160.9,248.8 L161.6,248.1 L162.3,247.4 L163.0,246.7 L163.7,246.0 L164.4,245.3 L165.2,244.6 L165.9,243.9 L167.7,242.3 L169.4,240.8 L171.2,239.3 L173.0,237.9 L174.7,236.5 L176.5,235.1 L178.3,233.8 L180.0,232.5 L181.8,231.2 L183.6,229.9 L185.3,228.7 L187.1,227.5 L188.9,226.3 L190.6,225.2 L192.4,224.0 L194.1,222.9 L195.9,221.8 L197.7,220.7 L199.4,219.7 L201.2,218.7 L203.0,217.7 L204.7,216.8 L206.5,215.9 L208.3,215.0 L210.0,214.2 L211.8,213.4 L213.5,212.7 L215.3,212.0 L217.1,211.3 L218.8,210.7 L220.6,210.1 L222.4,209.5 L224.1,208.9 L225.9,208.4 L227.7,207.8 L229.4,207.3 L231.2,206.8 L233.0,206.4 L234.7,205.9 L236.5,205.5 L238.2,205.0 L240.0,204.6 L241.8,204.2 L243.5,203.8 L245.3,203.4 L247.1,203.1 L248.8,202.7 L250.6,202.4 L252.4,202.1 L254.1,201.7 L255.9,201.4 L257.6,201.1 L259.4,200.9 L261.2,200.6 L262.9,200.3 L264.7,200.1 L266.5,199.9 L268.2,199.7 L270.0,199.5 L271.8,199.3 L273.5,199.1 L275.3,198.9 L277.1,198.7 L278.8,198.6 L280.6,198.4 L282.3,198.3 L284.1,198.2 L285.9,198.1 L287.6,198.0 L289.4,197.9 L291.2,197.8 L292.9,197.8 L294.7,197.7 L296.5,197.7 L298.2,197.6 L300.0,197.6 L301.7,197.6 L303.5,197.6 L305.3,197.7 L307.0,197.7 L308.8,197.8 L310.6,197.8 L312.3,197.9 L314.1,198.1 L315.9,198.2 L317.6,198.4 L319.4,198.5 L321.2,198.7 L322.9,198.9 L324.7,199.0 L326.4,199.2 L328.2,199.4 L330.0,199.5 L331.7,199.7 L333.5,199.9 L335.3,200.1 L337.0,200.2 L338.8,200.4 L340.6,200.6 L342.3,200.8 L344.1,201.0 L345.8,201.2 L347.6,201.4 L349.4,201.6 L351.1,201.8 L352.9,202.1 L354.7,202.3 L356.4,202.6 L358.2,202.8 L360.0,203.1 L361.7,203.4 L363.5,203.6 L365.3,203.9 L367.0,204.2 L368.8,204.6 L370.5,204.9 L372.3,205.2 L374.1,205.6 L375.8,205.9 L377.6,206.3 L379.4,206.7 L381.1,207.1 L382.9,207.5 L384.7,207.9 L386.4,208.3 L388.2,208.8 L389.9,209.2 L391.7,209.7 L393.5,210.2 L395.2,210.8 L397.0,211.3 L398.8,212.0 L400.5,212.6 L402.3,213.2 L404.1,213.9 L405.8,214.6 L407.6,215.2 L409.4,215.8 L411.1,216.4 L412.9,217.0 L414.6,217.7 L416.4,218.3 L418.2,218.9 L419.9,219.5 L421.7,220.1 L423.5,220.7 L425.2,221.4 L427.0,222.0 L428.8,222.6 L430.5,223.3 L432.3,223.9 L434.0,224.5 L435.8,225.2 L437.6,225.8 L439.3,226.4 L441.1,227.0 L442.9,227.6 L444.6,228.1 L446.4,228.7 L448.2,229.3 L449.9,229.9 L451.7,230.6 L453.5,231.3 L455.2,232.0 L457.0,232.7 L458.7,233.5 L460.5,234.2 L462.3,235.0 L464.0,235.8 L465.8,236.6 L467.6,237.5 L469.3,238.3 L471.1,239.1 L472.9,240.0 L474.6,240.9 L476.4,241.7 L478.1,242.6 L479.9,243.5 L481.7,244.4 L483.4,245.3 L485.2,246.3 L487.0,247.2 L488.7,248.1 L490.5,249.1 L492.3,250.1 L494.0,251.0 L495.8,252.0 L497.6,253.0 L499.3,253.9 L501.1,254.9 L502.8,255.9 L504.6,256.9 L506.4,257.9 L508.1,258.9 L509.9,259.9 L511.7,261.0 L513.4,262.0 L515.2,263.1 L517.0,264.1 L518.7,265.2 L520.5,266.2 L522.2,267.3 L524.0,268.4 L525.8,269.5 L527.5,270.7 L529.3,271.8 L531.1,272.9 L532.8,274.1 L534.6,275.3 L536.4,276.4 L538.1,277.6 L539.9,278.7 L541.7,279.9 L543.4,281.1 L545.2,282.3 L546.9,283.4 L548.7,284.6 L550.5,285.8 L552.2,287.0 L554.0,288.2 L555.8,289.5 L557.5,290.7 L559.3,291.9 L561.1,293.2 L562.8,294.4 L564.6,295.6 L566.3,296.9 L568.1,298.2 L569.9,299.4 L571.6,300.7 L573.4,302.0 L575.2,303.2 L576.9,304.5 L578.7,305.8 L580.5,307.1 L582.2,308.4 L584.0,309.7 L585.8,311.0 L587.5,312.3 L589.3,313.6 L591.0,314.9 L592.8,316.2 L594.6,317.5 L596.3,318.9 L598.1,320.2 L599.9,321.6 L601.6,323.0 L603.4,324.4 L605.2,325.8 L606.9,327.2 L608.7,328.6 L610.4,330.1 L612.2,331.6 L614.0,333.1 L615.7,334.7 L617.5,336.3 L619.3,338.0 L621.0,339.6 L622.8,341.3 L624.6,343.0 L626.3,344.6 L628.1,346.3 L629.9,347.9 L631.6,349.5 L633.4,351.1 L635.1,352.7 L636.9,354.3 L638.7,355.8 L640.4,357.4 L642.2,359.0 L644.0,360.6 L645.7,362.1 L647.5,363.7 L649.3,365.3 L651.0,366.9 L652.8,368.5 L654.5,370.1 L656.3,371.7 L658.1,373.3 L659.8,374.9 L661.6,376.4 L663.4,378.0 L665.1,379.6 L666.9,381.2 L668.7,382.8 L670.4,384.4 L672.2,386.1 L674.0,387.7 L675.7,389.4 L677.5,391.1 L679.2,392.8 L681.0,394.5 L682.8,396.2 L684.5,398.0 L686.3,399.7 L688.1,401.5 L689.8,403.2 L691.6,405.0 L693.4,406.8 L695.1,408.6 L696.9,410.4 L698.6,412.2 L700.4,414.0 L702.2,415.9 L703.9,417.7 L705.7,419.6 L707.5,421.6 L709.2,423.5 L711.0,425.4 L712.8,427.3 L714.5,429.2 L716.3,431.1 L718.1,433.0 L719.8,434.9 L721.6,436.8 L723.3,438.7 L725.1,440.6 L726.9,442.4 L728.6,444.3 L730.4,446.2 L732.2,448.1 L733.9,450.0 L735.7,451.8 L737.5,453.7 L739.2,455.6 L741.0,457.4 L742.7,459.3 L744.5,461.1 L746.3,463.0 L748.0,464.9 L749.8,466.7 L751.6,468.6 L753.3,470.5 L755.1,472.4 L756.9,474.3 L758.6,476.2 L760.4,478.1 L762.2,480.1 L763.9,482.0 L765.7,484.0 L767.4,486.0 L769.2,488.0 L771.0,490.1 L772.7,492.1 L774.5,494.2 L776.3,496.3 L778.0,498.5 L779.8,500.6 L781.6,502.8 L783.3,504.9 L785.1,507.1 L786.8,509.3 L788.6,511.5 L790.4,513.8 L792.1,516.0 L793.9,518.2 L795.7,520.4 L797.4,522.6 L799.2,524.8 L801.0,527.0 L802.7,529.3 L804.5,531.5 L806.3,533.7 L808.0,535.9 L809.8,538.2 L811.5,540.4 L813.3,542.7 L815.1,544.9 L816.8,547.2 L818.6,549.5 L820.4,551.7 L822.1,554.0 L823.9,556.3 L825.7,558.5 L827.4,560.8 L829.2,563.0 L830.9,565.3 L832.7,567.5 L834.5,569.7 L836.2,571.8 L838.0,574.0 L839.8,576.1 L841.5,578.2 L843.3,580.4 L845.1,582.6 L846.8,584.8 L848.6,587.1 L850.4,589.4 L852.1,591.7 L853.9,594.1 L855.6,596.4 L857.4,598.8 L859.2,601.3 L860.9,603.7 L862.7,606.2 L864.5,608.7 L866.2,611.3 L868.0,613.8 L869.8,616.4 L871.5,619.0 L873.3,621.7 L875.0,624.3 L876.8,626.9 L878.6,629.6 L880.3,632.2 L882.1,634.8 L883.9,637.4 L885.6,639.9 L887.4,642.5 L889.2,645.0 L890.9,647.6 L892.7,650.1 L894.5,652.7 L896.2,655.2 L898.0,657.8 L899.7,660.4" stroke="#000000"/></g>
<circle cx="201.20" cy="217.70" r="7.90" stroke="#000000" stroke-width="5.40" fill="none"/><circle cx="289.40" cy="197.80" r="7.90" stroke="#000000" stroke-width="5.40" fill="none"/><circle cx="377.60" cy="206.00" r="7.90" stroke="#000000" stroke-width="5.40" fill="none"/><circle cx="465.80" cy="236.60" r="7.90" stroke="#000000" stroke-width="5.40" fill="none"/><circle cx="554.00" cy="288.50" r="7.90" stroke="#000000" stroke-width="5.40" fill="none"/><circle cx="642.20" cy="359.00" r="7.90" stroke="#000000" stroke-width="5.40" fill="none"/><circle cx="730.40" cy="446.40" r="7.90" stroke="#000000" stroke-width="5.40" fill="none"/><circle cx="818.60" cy="550.20" r="7.90" stroke="#000000" stroke-width="5.40" fill="none"/>
<path transform="translate(57.00,39.70) scale(1.000)" d="M4.3,0V-18.9H6.8V0Z M4.5,-18.9C4.0,-16.5 2.3,-15.4 0,-15.3V-13.4C2.3,-13.5 3.7,-14.0 4.4,-14.6Z" fill="#000"/>
<text x="70.1" y="40.10" font-family="Liberation Sans, sans-serif" font-size="27" fill="#000">0</text>
<text x="84.6" y="22.80" font-family="Liberation Sans, sans-serif" font-size="17" fill="#000">4</text>
<path transform="translate(57.00,176.81) scale(1.000)" d="M4.3,0V-18.9H6.8V0Z M4.5,-18.9C4.0,-16.5 2.3,-15.4 0,-15.3V-13.4C2.3,-13.5 3.7,-14.0 4.4,-14.6Z" fill="#000"/>
<text x="70.1" y="177.21" font-family="Liberation Sans, sans-serif" font-size="27" fill="#000">0</text>
<text x="84.6" y="159.91" font-family="Liberation Sans, sans-serif" font-size="17" fill="#000">2</text>
<path transform="translate(57.00,313.92) scale(1.000)" d="M4.3,0V-18.9H6.8V0Z M4.5,-18.9C4.0,-16.5 2.3,-15.4 0,-15.3V-13.4C2.3,-13.5 3.7,-14.0 4.4,-14.6Z" fill="#000"/>
<text x="70.1" y="314.32" font-family="Liberation Sans, sans-serif" font-size="27" fill="#000">0</text>
<text x="84.6" y="297.02" font-family="Liberation Sans, sans-serif" font-size="17" fill="#000">0</text>
<path transform="translate(57.00,451.03) scale(1.000)" d="M4.3,0V-18.9H6.8V0Z M4.5,-18.9C4.0,-16.5 2.3,-15.4 0,-15.3V-13.4C2.3,-13.5 3.7,-14.0 4.4,-14.6Z" fill="#000"/>
<text x="70.1" y="451.43" font-family="Liberation Sans, sans-serif" font-size="27" fill="#000">0</text>
<rect x="85.8" y="429.43" width="8.8" height="1.6" fill="#000"/>
<text x="94.9" y="434.13" font-family="Liberation Sans, sans-serif" font-size="17" fill="#000">2</text>
<path transform="translate(57.00,588.14) scale(1.000)" d="M4.3,0V-18.9H6.8V0Z M4.5,-18.9C4.0,-16.5 2.3,-15.4 0,-15.3V-13.4C2.3,-13.5 3.7,-14.0 4.4,-14.6Z" fill="#000"/>
<text x="70.1" y="588.54" font-family="Liberation Sans, sans-serif" font-size="27" fill="#000">0</text>
<rect x="85.8" y="566.54" width="8.8" height="1.6" fill="#000"/>
<text x="94.9" y="571.24" font-family="Liberation Sans, sans-serif" font-size="17" fill="#000">4</text>
<text x="113.00" y="679.8" font-family="Liberation Sans, sans-serif" font-size="27" text-anchor="middle" fill="#000">0</text>
<path transform="translate(284.80,679.60) scale(1.000)" d="M4.3,0V-18.9H6.8V0Z M4.5,-18.9C4.0,-16.5 2.3,-15.4 0,-15.3V-13.4C2.3,-13.5 3.7,-14.0 4.4,-14.6Z" fill="#000"/>
<text x="465.80" y="679.8" font-family="Liberation Sans, sans-serif" font-size="27" text-anchor="middle" fill="#000">2</text>
<text x="642.20" y="679.8" font-family="Liberation Sans, sans-serif" font-size="27" text-anchor="middle" fill="#000">3</text>
<text x="818.60" y="679.8" font-family="Liberation Sans, sans-serif" font-size="27" text-anchor="middle" fill="#000">4</text>
<text x="995.00" y="679.8" font-family="Liberation Sans, sans-serif" font-size="27" text-anchor="middle" fill="#000">5</text>
<text transform="translate(541.2,704.5) scale(1.25,0.96)" font-family="Liberation Serif, serif" font-style="italic" font-size="28" fill="#000">&#964;</text>
<text transform="translate(552.8,707.6) scale(1.5,0.86)" font-family="Liberation Serif, serif" font-style="italic" font-size="19" fill="#000">n</text>
<rect x="540.7" y="709.7" width="27.3" height="1.5" fill="#000"/>
<text x="541" y="733.5" font-family="Liberation Serif, serif" font-style="italic" font-size="28" fill="#000">&#963;</text>
<text x="555" y="736.5" font-family="Liberation Serif, serif" font-size="19" fill="#000">0</text>
<path d="M15.7,342.5 C15.8,340.3 16.6,338.5 18.6,337.5 L40.9,329.1 C41.9,328.8 42.5,329.6 42.3,330.6 C42.1,331.4 41.6,331.8 41,332 L19.6,340.2 C18.4,340.6 17.6,341.4 17.1,342.8 Z" fill="#000"/>
<path d="M30.1,336.4 L41.5,346.3" stroke="#000" stroke-width="1.8" stroke-linecap="round" fill="none"/>
<rect x="134.00" y="426.20" width="262.30" height="194.10" fill="#fff" stroke="#000" stroke-width="1.6"/>
<path d="M149.5,454.00H231.8" stroke="#0000ff" stroke-width="5.60" fill="none"/>
<path d="M182.20,454.00h17.20M190.80,445.40v17.20" stroke="#0000ff" stroke-width="5.40" fill="none"/>
<text x="240" y="463.60" font-family="Liberation Serif, serif" font-style="italic" font-size="38" fill="#000">p</text>
<path d="M246.1,441.10 C246.9,438.70 248.6,437.70 250.6,438.90 C252.2,440.10 253.6,440.80 255.2,440.10 C256.4,439.50 257.2,438.70 258.1,437.70" stroke="#000" stroke-width="1.9" fill="none"/>
<rect x="270.9" y="449.00" width="25.5" height="2.1" fill="#000"/>
<rect x="270.9" y="455.90" width="25.5" height="2.1" fill="#000"/>
<text x="309" y="463.60" font-family="Liberation Serif, serif" font-size="39.5" fill="#000">0</text>
<path d="M149.5,500.10H231.8" stroke="#008000" stroke-width="5.60" fill="none"/>
<rect x="184.00" y="493.50" width="13.20" height="13.20" stroke="#008000" stroke-width="6.30" fill="none" stroke-linejoin="miter"/>
<text x="240" y="509.70" font-family="Liberation Serif, serif" font-style="italic" font-size="38" fill="#000">p</text>
<path d="M246.1,487.20 C246.9,484.80 248.6,483.80 250.6,485.00 C252.2,486.20 253.6,486.90 255.2,486.20 C256.4,485.60 257.2,484.80 258.1,483.80" stroke="#000" stroke-width="1.9" fill="none"/>
<rect x="270.9" y="495.10" width="25.5" height="2.1" fill="#000"/>
<rect x="270.9" y="502.00" width="25.5" height="2.1" fill="#000"/>
<text x="309" y="509.70" font-family="Liberation Serif, serif" font-size="39.5" fill="#000">0.01</text>
<path d="M149.5,546.10H231.8" stroke="#ff0000" stroke-width="5.80" stroke-dasharray="17.2 15.3" fill="none"/>
<text x="240" y="555.70" font-family="Liberation Serif, serif" font-style="italic" font-size="38" fill="#000">p</text>
<path d="M246.1,533.20 C246.9,530.80 248.6,529.80 250.6,531.00 C252.2,532.20 253.6,532.90 255.2,532.20 C256.4,531.60 257.2,530.80 258.1,529.80" stroke="#000" stroke-width="1.9" fill="none"/>
<rect x="270.9" y="541.10" width="25.5" height="2.1" fill="#000"/>
<rect x="270.9" y="548.00" width="25.5" height="2.1" fill="#000"/>
<text x="309" y="555.70" font-family="Liberation Serif, serif" font-size="39.5" fill="#000">0.1</text>
<path d="M149.5,592.20H231.8" stroke="#000000" stroke-width="5.60" fill="none"/>
<circle cx="190.50" cy="592.20" r="7.80" stroke="#000000" stroke-width="5.40" fill="none"/>
<text x="240" y="601.80" font-family="Liberation Serif, serif" font-style="italic" font-size="38" fill="#000">p</text>
<path d="M246.1,579.30 C246.9,576.90 248.6,575.90 250.6,577.10 C252.2,578.30 253.6,579.00 255.2,578.30 C256.4,577.70 257.2,576.90 258.1,575.90" stroke="#000" stroke-width="1.9" fill="none"/>
<rect x="270.9" y="587.20" width="25.5" height="2.1" fill="#000"/>
<rect x="270.9" y="594.10" width="25.5" height="2.1" fill="#000"/>
<text x="309" y="601.80" font-family="Liberation Serif, serif" font-size="39.5" fill="#000">0.2</text>
</svg></body></html>
